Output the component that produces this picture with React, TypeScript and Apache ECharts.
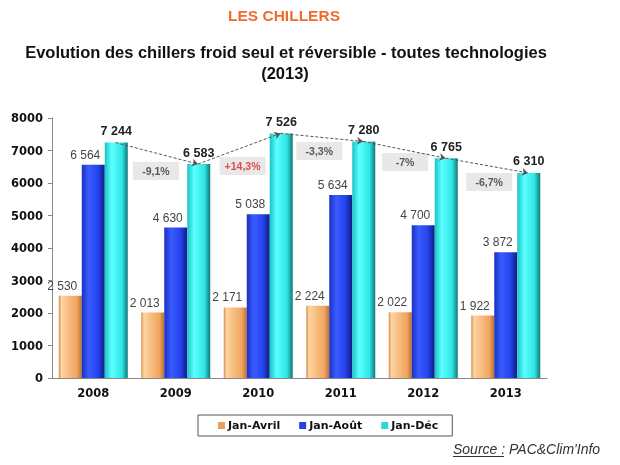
import React, { useEffect, useRef } from "react";
import * as echarts from "echarts";

const years = ["2008", "2009", "2010", "2011", "2012", "2013"];
const janAvril = [2530, 2013, 2171, 2224, 2022, 1922];
const janAout = [6564, 4630, 5038, 5634, 4700, 3872];
const janDec = [7244, 6583, 7526, 7280, 6765, 6310];
const changeLabels = ["-9,1%", "+14,3%", "-3,3%", "-7%", "-6,7%"];
const changeX = [0.76, 1.81, 2.74, 3.78, 4.8];
const changeY = [6370, 6520, 6985, 6650, 6030];
const yTicks = [0, 1000, 2000, 3000, 4000, 5000, 6000, 7000, 8000];

const fmt = (v: number) => String(v).replace(/\B(?=(\d{3})+(?!\d))/g, " ");
const FONT = "'Liberation Sans', Arial, sans-serif";
const BFONT = "'DejaVu Sans', Verdana, sans-serif";

export default function App() {
  const ref = useRef<HTMLDivElement>(null);
  useEffect(() => {
    if (!ref.current) return;
    const chart = echarts.init(ref.current, null, { renderer: "svg" });
    const grad = (stops: [number, string][]) =>
      new echarts.graphic.LinearGradient(0, 0, 1, 0, stops.map(([offset, color]) => ({ offset, color })));
    const orange = grad([[0, "#d98c45"], [0.12, "#fbd6a6"], [0.35, "#f9c387"], [0.8, "#f0a45e"], [1, "#b96e30"]]);
    const blue = grad([[0, "#1a30c0"], [0.3, "#3a5cff"], [0.7, "#2443ee"], [1, "#0f1d80"]]);
    const cyan = grad([[0, "#18c4c4"], [0.3, "#5cffff"], [0.75, "#2ee6e6"], [1, "#137676"]]);
    const cyanIdx0 = 0.27;
    const linesData = janDec.slice(0, -1).map((v, i) => ({
      coords: [[i + cyanIdx0, v], [i + 1 + cyanIdx0, janDec[i + 1]]],
    }));
    chart.setOption({
      animation: false,
      textStyle: { fontFamily: FONT },
      grid: { left: 52, right: 73, top: 118, bottom: 87 },
      xAxis: [
        {
          type: "category",
          data: years,
          axisLine: { lineStyle: { color: "#888" } },
          axisTick: { lineStyle: { color: "#888" }, length: 4 },
          axisLabel: { color: "#111", fontWeight: "bold", fontSize: 11.5, margin: 9, fontFamily: BFONT },
        },
        { type: "value", min: -0.5, max: 5.5, show: false },
      ],
      yAxis: {
        type: "value",
        min: 0,
        max: 8000,
        interval: 1000,
        axisLine: { show: true, onZero: false, lineStyle: { color: "#888" } },
        axisTick: { show: true, inside: false, length: 4, lineStyle: { color: "#888" } },
        splitLine: { show: false },
        axisLabel: { color: "#111", fontWeight: "bold", fontSize: 11.5, margin: 9, fontFamily: BFONT,
          formatter: (v: number) => (yTicks.includes(v) ? String(v) : "") },
      },
      legend: {
        left: 198,
        top: 415,
        padding: [5, 14, 5, 20],
        borderColor: "#555",
        borderWidth: 1,
        itemWidth: 7,
        itemHeight: 7,
        itemGap: 19,
        icon: "rect",
        textStyle: { fontWeight: "bold", fontSize: 11, color: "#111", fontFamily: BFONT, padding: [0, 0, 0, -2] },
        data: [
          { name: "Jan-Avril", itemStyle: { color: "#e8a060" } },
          { name: "Jan-Août", itemStyle: { color: "#2a3fe0" } },
          { name: "Jan-Déc", itemStyle: { color: "#2ed8d8" } },
        ],
      },
      series: [
        {
          name: "Jan-Avril",
          type: "bar",
          data: janAvril,
          barWidth: 23,
          barGap: "0%",
          itemStyle: { color: orange },
          label: { show: true, position: "top", offset: [-8, 0], distance: 4, fontSize: 12, color: "#444",
            fontFamily: FONT, formatter: (p: any) => fmt(p.value) },
        },
        {
          name: "Jan-Août",
          type: "bar",
          data: janAout,
          barWidth: 23,
          barGap: "0%",
          itemStyle: { color: blue },
          label: { show: true, position: "top", offset: [-8, 0], distance: 4, fontSize: 12, color: "#444",
            fontFamily: FONT, formatter: (p: any) => fmt(p.value) },
        },
        {
          name: "Jan-Déc",
          type: "bar",
          data: janDec,
          barWidth: 23,
          barGap: "0%",
          itemStyle: { color: cyan },
          label: { show: true, position: "top", distance: 5, fontSize: 12.5, fontWeight: "bold", color: "#222",
            fontFamily: FONT, formatter: (p: any) => fmt(p.value) },
        },
        {
          type: "lines",
          coordinateSystem: "cartesian2d",
          xAxisIndex: 1,
          yAxisIndex: 0,
          data: linesData,
          symbol: ["none", "arrow"],
          symbolSize: 6,
          lineStyle: { type: [3, 2], color: "#555", width: 1, opacity: 1 },
          z: 5,
        },
        {
          type: "scatter",
          xAxisIndex: 1,
          yAxisIndex: 0,
          symbol: "rect",
          symbolSize: [46, 18],
          itemStyle: { color: "#e2e2e2" },
          data: changeLabels.map((n, i) => ({
            name: n,
            value: [changeX[i], changeY[i]],
            label: { color: n.startsWith("+") ? "#e02020" : "#333" },
          })),
          label: { show: true, position: "inside", formatter: (p: any) => p.name, fontSize: 10.5,
            fontWeight: "bold", fontFamily: FONT },
          z: 4,
        },
      ],
      graphic: [
        { type: "text", x: 284, y: 15, style: { text: "LES CHILLERS", fill: "#f26a2c", font: `bold 15.5px ${FONT}`,
          textAlign: "center", textVerticalAlign: "middle" } },
        { type: "text", x: 286, y: 52, style: { text: "Evolution des chillers froid seul et réversible - toutes technologies",
          fill: "#111", font: `bold 16.5px ${FONT}`, textAlign: "center", textVerticalAlign: "middle" } },
        { type: "text", x: 285, y: 73, style: { text: "(2013)", fill: "#111", font: `bold 16.5px ${FONT}`,
          textAlign: "center", textVerticalAlign: "middle" } },
        { type: "text", x: 453, y: 449, style: { text: "Source : PAC&Clim'Info", fill: "#333",
          font: `italic 14px ${FONT}`, textAlign: "left", textVerticalAlign: "middle" } },
        { type: "line", shape: { x1: 453, y1: 456.5, x2: 504, y2: 456.5 }, style: { stroke: "#333", lineWidth: 1 } },
      ],
    });
    return () => chart.dispose();
  }, []);
  return <div ref={ref} style={{ width: 620, height: 465, position: "fixed", left: 0, top: 0 }} />;
}
